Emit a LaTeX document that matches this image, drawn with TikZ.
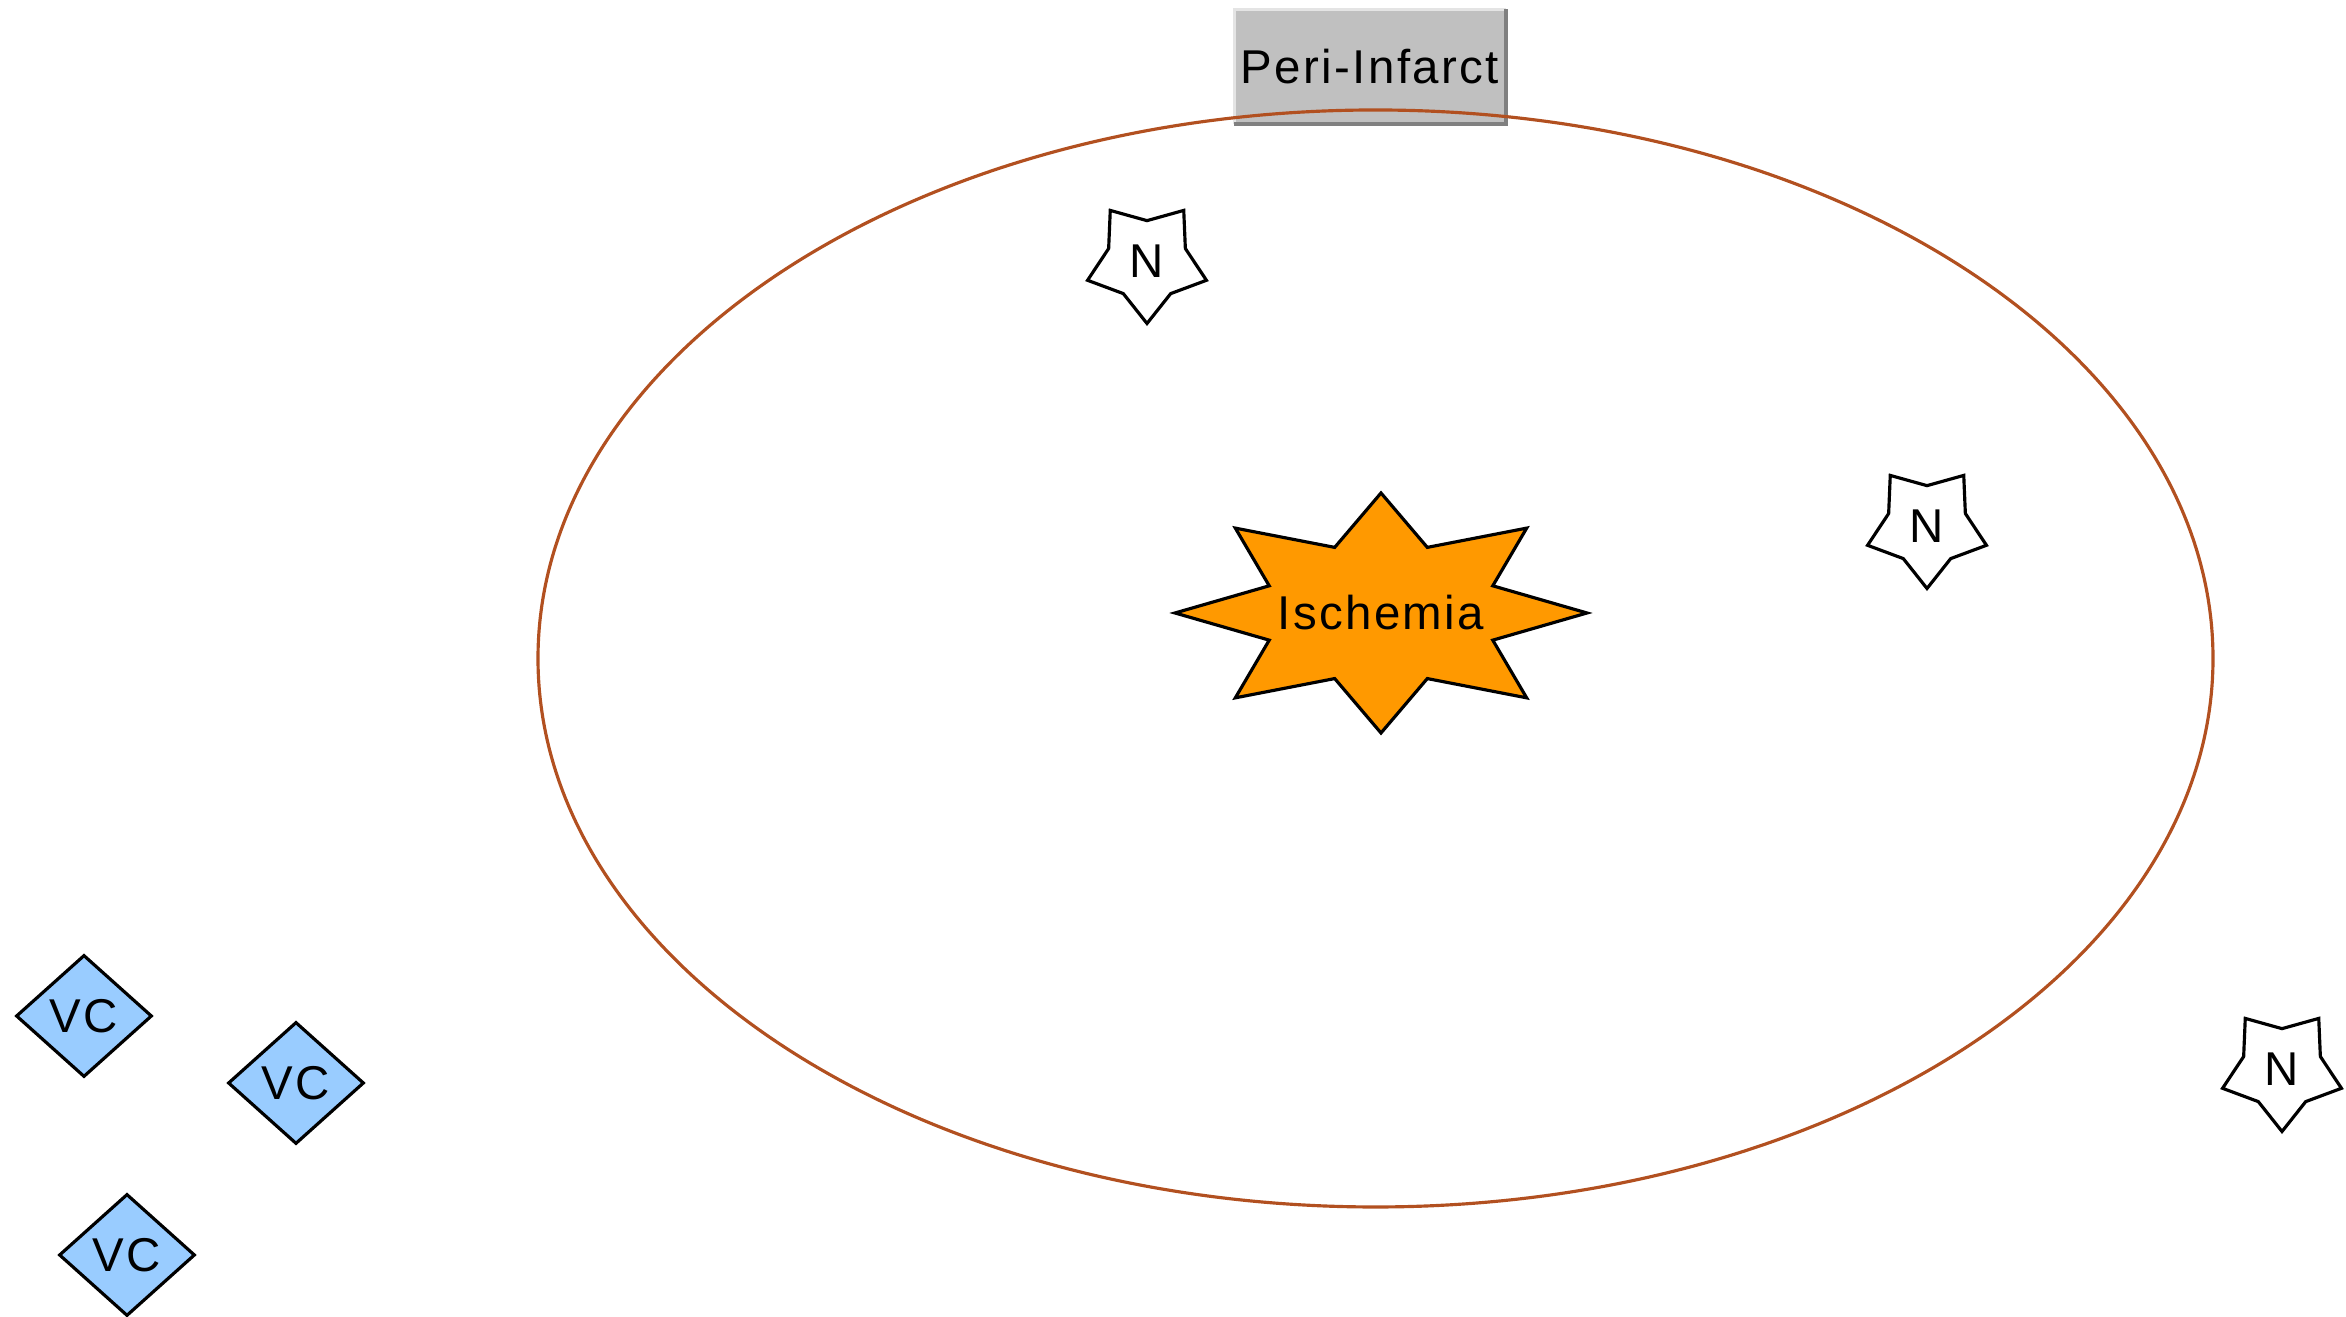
\documentclass[tikz,border=0pt]{standalone}
\usepackage{fontspec}
\setmainfont[LetterSpace=5]{Liberation Sans}
\usepackage{tikz}
\usetikzlibrary{shapes.geometric,backgrounds}
\definecolor{vcblue}{RGB}{153,204,255}
\definecolor{ischorange}{RGB}{255,153,0}
\definecolor{perigray}{RGB}{192,192,192}
\definecolor{periedge}{RGB}{128,128,128}
\definecolor{perilight}{RGB}{228,228,228}
\definecolor{rimbrown}{RGB}{178,80,32}

\begin{document}
\begin{tikzpicture}[
  font=\fontsize{13.5}{16}\selectfont,
  label box/.style={fill=perigray, inner sep=0pt, minimum width=2.70cm, minimum height=1.13cm},
  rim/.style={draw=rimbrown, line width=0.9pt, ellipse, inner sep=0pt,
              minimum width=16.75cm, minimum height=10.97cm},
  neuron/.style={draw=black, fill=white, line width=0.9pt, star, star points=5,
                 star point ratio=1.55, shape border rotate=180, inner sep=0pt,
                 minimum size=1.25cm},
  vessel/.style={draw=black, fill=vcblue, line width=0.9pt, diamond, inner sep=0pt,
                 minimum width=1.36cm, minimum height=1.22cm},
  core/.style={inner sep=0pt},
  burst/.style={draw=black, fill=ischorange, line width=0.9pt, line join=miter}
]
\useasboundingbox (0,0) rectangle (23.46,13.17);

\node[label box] (peri) at (13.70,12.505) {Peri-Infarct};
\draw[perilight, line width=1pt] (peri.south west) -- (peri.north west) -- (peri.north east);
\draw[periedge, line width=1.2pt] (peri.north east) -- (peri.south east) -- (peri.south west);
\node[rim] (zone) at (13.755,6.585) {};

\node[core] (isch) at (13.81,7.04) {Ischemia};
\begin{scope}[on background layer]
\filldraw[burst, shift={(isch.center)}] (2.06,0)
  \foreach \a in {0,45,...,315}{
    -- ({1.21*cos(\a+22.5)},{0.71*sin(\a+22.5)}) -- ({2.06*cos(\a+45)},{1.20*sin(\a+45)})
  } -- cycle;
\end{scope}

\node[neuron] (n1) at (11.47,10.56) {N};
\node[neuron] (n2) at (19.27,7.91) {N};
\node[neuron] (n3) at (22.82,2.48) {N};

\node[vessel] (vc1) at (0.84,3.01) {VC};
\node[vessel] (vc2) at (2.96,2.34) {VC};
\node[vessel] (vc3) at (1.27,0.62) {VC};
\end{tikzpicture}
\end{document}
